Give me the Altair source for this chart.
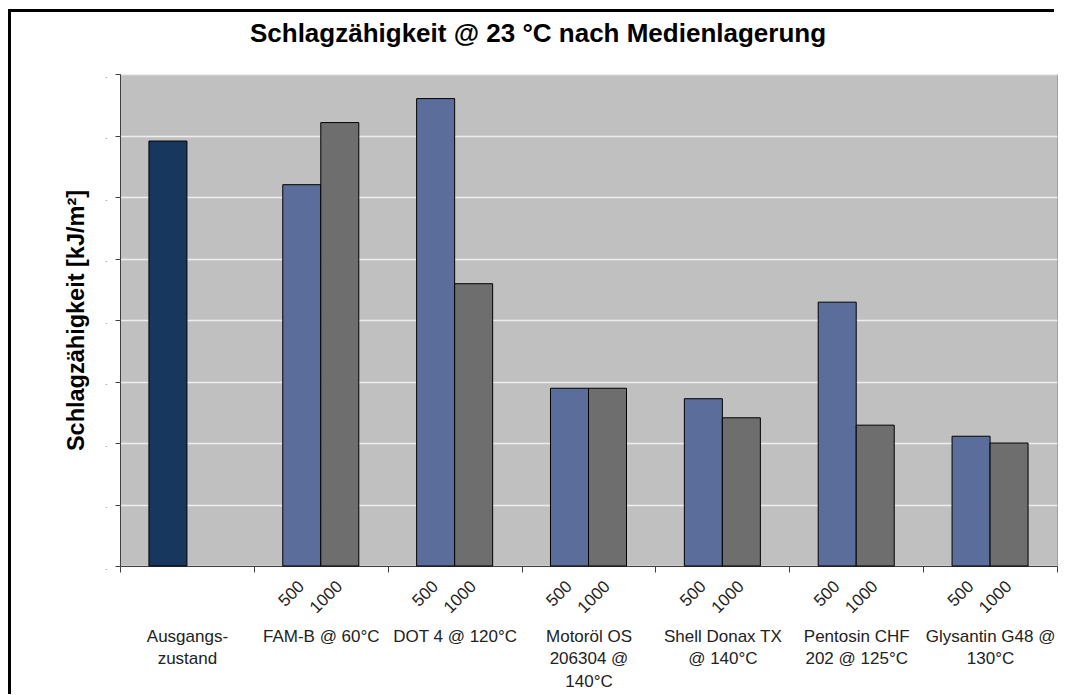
import altair as alt
import pandas as pd

categories = [
    "Ausgangs-|zustand",
    "FAM-B @ 60°C",
    "DOT 4 @ 120°C",
    "Motoröl OS|206304 @|140°C",
    "Shell Donax TX|@ 140°C",
    "Pentosin CHF|202 @ 125°C",
    "Glysantin G48 @|130°C",
]
slots = ["500", "1000"]
values_500 = [6.91, 6.20, 7.60, 2.89, 2.72, 4.29, 2.11]
values_1000 = [None, 7.21, 4.59, 2.89, 2.41, 2.29, 2.00]
series_names = ["Ausgangszustand", "500", "1000"]
series_colors = ["#17375E", "#5B6E9B", "#6E6E6E"]
y_ticks = [0, 1, 2, 3, 4, 5, 6, 7, 8]
title_text = "Schlagzähigkeit @ 23 °C nach Medienlagerung"

rows = []
for i, c in enumerate(categories):
    if i == 0:
        rows.append({"category": c, "slot": "500", "series": "Ausgangszustand", "value": values_500[i]})
    else:
        rows.append({"category": c, "slot": "500", "series": "500", "value": values_500[i]})
        rows.append({"category": c, "slot": "1000", "series": "1000", "value": values_1000[i]})
df = pd.DataFrame(rows)

lab_rows = [{"category": c, "slot": s} for c in categories[1:] for s in slots]
df_lab = pd.DataFrame(lab_rows)

FONT = "Liberation Sans"
W, H = 937, 492

x_enc = alt.X(
    "category:N",
    sort=categories,
    scale=alt.Scale(domain=categories, paddingInner=0, paddingOuter=0),
    axis=alt.Axis(
        title=None,
        labelAngle=0,
        labelExpr="split(datum.label, '|')",
        tickBand="extent",
        labelPadding=56,
        labelFontSize=17,
        labelFont=FONT,
        labelColor="#222222",
        labelLineHeight=22.5,
        labelLimit=0,
        domainColor="#404040",
        tickColor="#404040",
        tickSize=6,
        grid=False,
    ),
)
xo_enc = alt.XOffset(
    "slot:N",
    sort=slots,
    scale=alt.Scale(domain=slots, paddingInner=0, paddingOuter=0.761),
)

bars = alt.Chart(df).mark_bar(stroke="black", strokeWidth=1).encode(
    x=x_enc,
    xOffset=xo_enc,
    y=alt.Y(
        "value:Q",
        scale=alt.Scale(domain=[0, 8], nice=False),
        axis=alt.Axis(
            title="Schlagzähigkeit [kJ/m²]",
            titleFont=FONT,
            titleFontSize=23.5,
            titleFontWeight="bold",
            titleColor="black",
            titlePadding=16,
            values=y_ticks,
            labelExpr="'.'",
            labelFontSize=9,
            labelColor="#777777",
            labelPadding=8,
            tickSize=5,
            tickColor="#404040",
            domainColor="#404040",
            gridColor="#EEEEEE",
            gridWidth=1.5,
        ),
    ),
    color=alt.Color(
        "series:N",
        scale=alt.Scale(domain=series_names, range=series_colors),
        legend=None,
    ),
)

sub_labels = alt.Chart(df_lab).mark_text(
    angle=315, align="right", baseline="middle", fontSize=17, font=FONT, color="#222222"
).encode(
    x=alt.X("category:N", sort=categories),
    xOffset=alt.XOffset("slot:N", sort=slots),
    y=alt.value(H + 18),
    text="slot:N",
)

title = alt.Chart(pd.DataFrame({"t": [title_text]})).mark_text(
    fontSize=26, font=FONT, fontWeight="bold", color="black", align="center", baseline="alphabetic"
).encode(
    x=alt.value(418), y=alt.value(-32), text="t:N"
)

frame_df = pd.DataFrame({"k": [0]})
border_top = alt.Chart(frame_df).mark_rule(stroke="black", strokeWidth=3).encode(
    x=alt.value(-112), x2=alt.value(W - 3), y=alt.value(-63.5)
)
border_left = alt.Chart(frame_df).mark_rule(stroke="black", strokeWidth=3).encode(
    x=alt.value(-110.5), y=alt.value(-65), y2=alt.value(H + 200)
)

chart = alt.layer(bars, sub_labels, title, border_top, border_left).properties(
    width=W,
    height=H,
    padding={"left": 112, "top": 66, "right": 3, "bottom": 128},
    autosize=alt.AutoSizeParams(type="none"),
).configure_view(fill="#C0C0C0", stroke="#A0A0A0")

chart.save("out.html", embed_options={"renderer": "svg", "actions": False})
